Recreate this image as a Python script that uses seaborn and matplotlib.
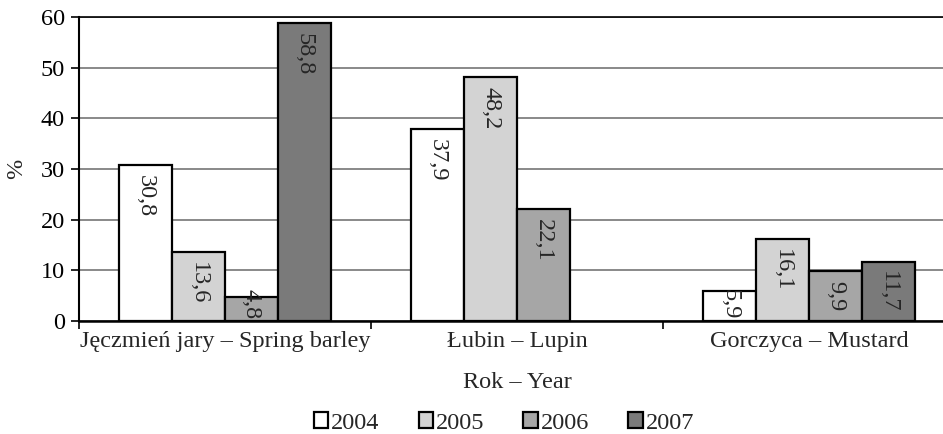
import numpy as np
import pandas as pd
import matplotlib
matplotlib.use("Agg")
import matplotlib.pyplot as plt
from matplotlib.patches import Patch
from matplotlib.ticker import FixedLocator, NullFormatter
import seaborn as sns

# Shares (%) per crop and year
crops = ["Jęczmień jary – Spring barley", "Łubin – Lupin", "Gorczyca – Mustard"]
years = ["2004", "2005", "2006", "2007"]
barley = [30.8, 13.6, 4.8, 58.8]
lupin = [37.9, 48.2, 22.1, np.nan]
mustard = [5.9, 16.1, 9.9, 11.7]
colors = ["#ffffff", "#d3d3d3", "#a6a6a6", "#7a7a7a"]

rows = []
for crop, vals in zip(crops, [barley, lupin, mustard]):
    for yr, v in zip(years, vals):
        if not np.isnan(v):
            rows.append({"crop": crop, "year": yr, "value": v})
df = pd.DataFrame(rows)

sns.set_style("white")
plt.rcParams["font.family"] = ["Liberation Serif", "DejaVu Serif"]
FS = 17.5

fig = plt.figure(figsize=(9.43, 4.34), dpi=100)
ax = fig.add_axes([79 / 943, 1 - 321 / 434, 876 / 943, 304 / 434])

sns.barplot(data=df, x="crop", y="value", hue="year", order=crops,
            hue_order=years, palette=colors, width=0.726, saturation=1,
            edgecolor="black", linewidth=1.6, errorbar=None, legend=False,
            ax=ax, zorder=3)

ax.set_xlim(-0.5, 2.5)
ax.set_ylim(0, 60)
ax.set_yticks(range(0, 61, 10))
ax.yaxis.grid(True, color="#808080", linewidth=1.3, zorder=0)
ax.set_axisbelow(True)
ax.tick_params(axis="y", labelsize=FS, length=6, width=1.2, direction="out",
               left=True, pad=4, colors="black")
ax.tick_params(axis="x", which="major", length=0, labelsize=FS, pad=7)
ax.xaxis.set_minor_locator(FixedLocator([-0.5, 0.5, 1.5, 2.5]))
ax.xaxis.set_minor_formatter(NullFormatter())
ax.tick_params(axis="x", which="minor", length=6, width=1.2, bottom=True,
               direction="out", colors="black")
for side in ["left", "bottom", "top"]:
    ax.spines[side].set_visible(True)
    ax.spines[side].set_color("black")
ax.spines["left"].set_linewidth(1.5)
ax.spines["bottom"].set_linewidth(1.8)
ax.spines["top"].set_linewidth(1.2)
ax.spines["right"].set_visible(False)
ax.set_xlabel("")
ax.set_ylabel("%", fontsize=FS)
ax.yaxis.set_label_coords(-0.059, 0.5)

# Value labels inside bars, rotated, decimal comma
for cont in ax.containers:
    for bar in cont:
        h = bar.get_height()
        if np.isnan(h) or h == 0:
            continue
        x = bar.get_x() + bar.get_width() / 2
        txt = f"{h:.1f}".replace(".", ",")
        if h < 8:
            ax.annotate(txt, (x, 0), xytext=(0, 1.5), textcoords="offset points",
                        rotation=270, ha="center", va="bottom", fontsize=FS,
                        zorder=4)
        else:
            ax.annotate(txt, (x, h), xytext=(0, -7), textcoords="offset points",
                        rotation=270, ha="center", va="top", fontsize=FS,
                        zorder=4)

fig.text(517 / 943, 1 - 383 / 434, "Rok – Year", ha="center", va="center",
         fontsize=FS)

handles = [Patch(facecolor=c, edgecolor="black", linewidth=1.6) for c in colors]
fig.legend(handles, years, loc="center", bbox_to_anchor=(504 / 943, 1 - 423 / 434),
           ncol=4, frameon=False, fontsize=FS, handlelength=0.6,
           handleheight=0.6, handletextpad=0.12, columnspacing=1.6,
           borderpad=0)

fig.savefig("out.png", dpi=100, facecolor="white")
